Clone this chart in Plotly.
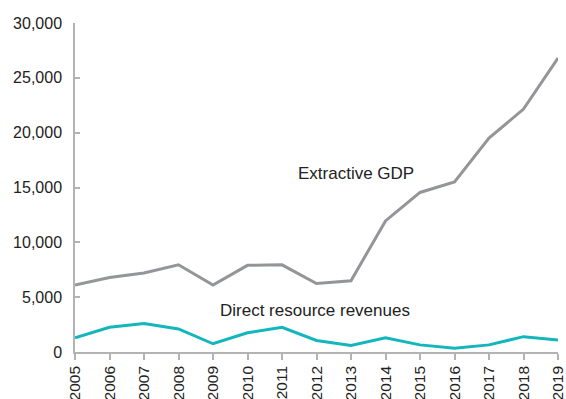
import plotly.graph_objects as go

years = [str(y) for y in range(2005, 2020)]
extractive_gdp = [6100, 6800, 7200, 7950, 6100, 7900, 7950, 6250, 6500,
                  11950, 14550, 15500, 19500, 22150, 26800]
direct_revenues = [1300, 2250, 2600, 2100, 750, 1750, 2250, 1050, 600,
                   1300, 650, 350, 650, 1400, 1100]
y_ticks = [0, 5000, 10000, 15000, 20000, 25000, 30000]
y_tick_labels = ["0", "5,000", "10,000", "15,000", "20,000", "25,000", "30,000"]

GRAY = "#939598"
TEAL = "#12B6BC"
AXIS = "#b3b3b3"
FONT = "Liberation Sans, Arial, sans-serif"

fig = go.Figure()
fig.add_trace(go.Scatter(x=years, y=extractive_gdp, mode="lines",
                         line=dict(color=GRAY, width=3), name="Extractive GDP"))
fig.add_trace(go.Scatter(x=years, y=direct_revenues, mode="lines",
                         line=dict(color=TEAL, width=3), name="Direct resource revenues"))

fig.add_annotation(x=8.15, y=16300, text="Extractive GDP", showarrow=False,
                   font=dict(family=FONT, size=17, color="#222222"))
fig.add_annotation(x=6.95, y=3740, text="Direct resource revenues", showarrow=False,
                   font=dict(family=FONT, size=17, color="#222222"))

fig.update_layout(
    width=566, height=399,
    margin=dict(l=75, r=8, t=23, b=47),
    paper_bgcolor="white", plot_bgcolor="white",
    showlegend=False,
    font=dict(family=FONT, color="#222222"),
)
fig.update_xaxes(
    type="category", range=[0, 14], showgrid=False, zeroline=False,
    showline=True, linecolor=AXIS, linewidth=1.5,
    ticks="outside", ticklen=6, tickcolor=AXIS, tickwidth=1.5,
    tickangle=-90, tickfont=dict(size=15.5, color="#222222"),
    automargin=False,
)
fig.update_yaxes(
    range=[0, 30000], tickvals=y_ticks, ticktext=y_tick_labels,
    showgrid=False, zeroline=False,
    showline=True, linecolor=AXIS, linewidth=1.5,
    ticks="inside", ticklen=5, tickcolor=AXIS, tickwidth=1.5,
    ticklabelstandoff=8,
    tickfont=dict(size=16, color="#222222"),
    automargin=False,
)

fig.write_html("out.html")
